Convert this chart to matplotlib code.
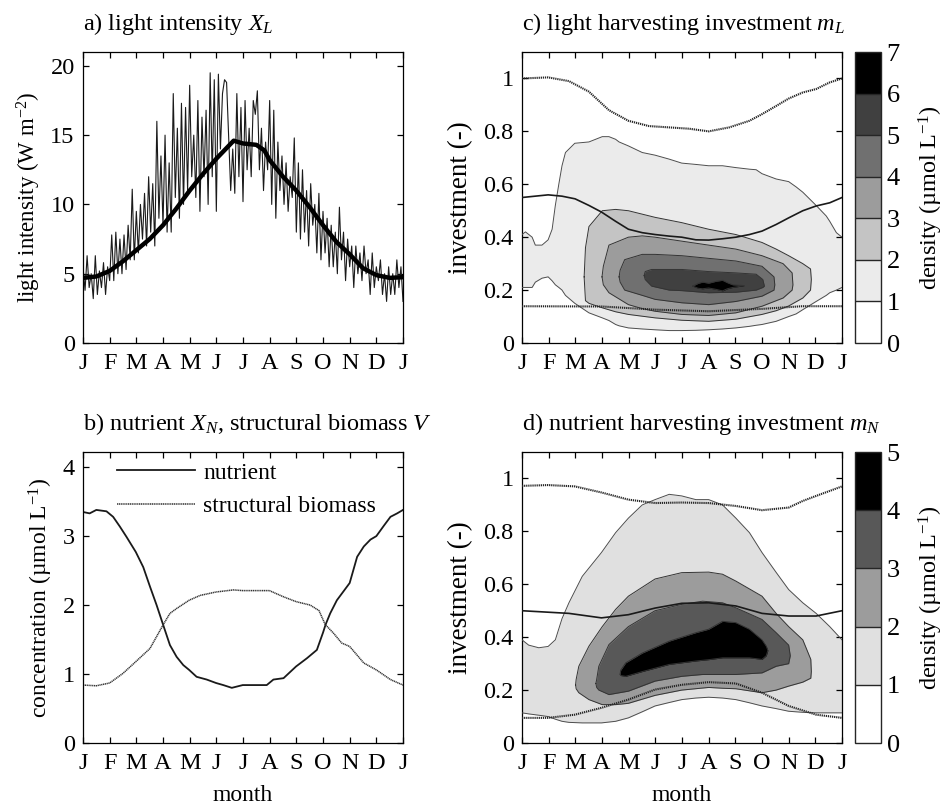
import numpy as np
import matplotlib
matplotlib.use("Agg")
import matplotlib.pyplot as plt
from matplotlib.colors import ListedColormap, BoundaryNorm
from matplotlib.cm import ScalarMappable

plt.rcParams['font.family'] = ['Liberation Serif', 'DejaVu Serif']
plt.rcParams['mathtext.fontset'] = 'custom'
plt.rcParams['mathtext.rm'] = 'Liberation Serif'
plt.rcParams['mathtext.it'] = 'Liberation Serif:italic'
plt.rcParams['font.size'] = 17

TICK_FS = 17.5
TITLE_FS = 17.5

month_labels = ['J', 'F', 'M', 'A', 'M', 'J', 'J', 'A', 'S', 'O', 'N', 'D', 'J']

# a) light intensity, noisy daily series (equally spaced over the year)
light_daily = [5.5, 3.8, 6.3, 4.0, 5.0, 3.2, 6.3, 3.5, 5.2, 4.0, 5.8, 3.5, 5.5, 4.5,
               7.8, 4.5, 8.0, 5.0, 7.5, 5.0, 7.8, 5.3, 8.5, 6.0, 11.1, 6.0, 9.5, 6.5,
               10.0, 7.5, 10.8, 7.0, 12.0, 8.0, 11.5, 7.0, 16.0, 9.0, 13.5, 8.5, 15.0,
               8.0, 13.0, 8.0, 18.0, 10.5, 15.5, 9.0, 17.3, 10.0, 17.0, 11.0, 18.6,
               12.0, 15.0, 10.5, 17.5, 9.5, 16.3, 12.0, 16.8, 10.0, 19.5, 12.0, 19.0,
               9.5, 19.4, 14.0, 18.0, 19.0, 18.8, 15.0, 11.0, 14.0, 10.8, 18.0, 12.0,
               17.0, 10.2, 17.5, 12.5, 15.5, 12.0, 17.5, 16.5, 18.2, 12.5, 15.5, 11.0,
               14.5, 12.5, 17.5, 10.0, 16.8, 9.0, 14.5, 11.0, 13.5, 10.0, 13.0, 9.5,
               12.0, 10.5, 14.8, 8.0, 13.0, 7.5, 12.5, 8.0, 11.0, 7.0, 11.5, 8.5, 10.0,
               6.5, 10.8, 6.0, 9.5, 6.5, 9.0, 5.5, 8.5, 5.5, 8.0, 5.0, 9.8, 6.0, 8.0,
               4.5, 7.5, 5.5, 7.0, 4.0, 7.0, 5.0, 6.5, 4.5, 7.0, 5.0, 6.0, 3.5, 6.5,
               4.0, 5.5, 4.5, 6.0, 3.5, 5.0, 3.0, 5.5, 3.5, 5.0, 3.5, 6.0, 4.0, 5.5, 3.0]
light_mean_t = [0, 0.5, 1, 1.5, 2, 2.5, 3, 3.5, 4, 4.5, 5, 5.5, 5.65, 6, 6.5, 6.8, 7,
                7.5, 8, 8.5, 9, 9.5, 10, 10.5, 11, 11.5, 12]
light_mean = [4.7, 4.8, 5.2, 5.9, 6.7, 7.5, 8.5, 9.7, 11.0, 12.2, 13.3, 14.3, 14.6, 14.4,
              14.3, 13.9, 13.2, 12.0, 11.0, 9.8, 8.5, 7.3, 6.4, 5.4, 4.9, 4.7, 4.75]

# b) nutrient and structural biomass
nut_t = [0, 0.25, 0.5, 0.88, 1.13, 1.38, 1.63, 1.98, 2.26, 2.51, 2.76, 3.0, 3.26, 3.51,
         3.76, 3.98, 4.26, 4.64, 4.99, 5.26, 5.58, 5.99, 6.39, 6.89, 7.14, 7.52, 7.99,
         8.4, 8.77, 9.0, 9.1, 9.27, 9.52, 9.77, 10.0, 10.28, 10.53, 10.78, 11.0, 11.28,
         11.53, 11.78, 12]
nutrient = [3.35, 3.33, 3.38, 3.36, 3.28, 3.14, 2.99, 2.77, 2.55, 2.27, 2.0, 1.72, 1.42,
            1.25, 1.13, 1.06, 0.96, 0.92, 0.87, 0.84, 0.80, 0.84, 0.84, 0.84, 0.92, 0.94,
            1.11, 1.23, 1.35, 1.6, 1.72, 1.88, 2.07, 2.2, 2.32, 2.7, 2.85, 2.95, 3.0,
            3.15, 3.28, 3.33, 3.38]
bio_t = [0, 0.5, 1.0, 1.5, 1.98, 2.51, 3.0, 3.26, 3.51, 3.98, 4.39, 4.99, 5.64, 5.99,
         6.39, 6.99, 7.52, 7.99, 8.52, 8.85, 9.08, 9.4, 9.7, 10.0, 10.53, 11.0, 11.53, 12]
biomass = [0.84, 0.83, 0.87, 1.01, 1.18, 1.37, 1.71, 1.88, 1.95, 2.07, 2.14, 2.19, 2.22,
           2.21, 2.21, 2.21, 2.12, 2.05, 2.0, 1.92, 1.72, 1.59, 1.45, 1.40, 1.16, 1.06,
           0.92, 0.84]

# c) light harvesting investment: boundary lines
mL_up_t = [0, 0.98, 1.76, 2.51, 3.26, 3.99, 4.76, 5.52, 6.27, 7.0, 7.77, 8.53, 9.0, 9.53,
           10.0, 10.53, 11.03, 11.54, 12]
mL_up = [1.0, 1.004, 0.99, 0.95, 0.88, 0.84, 0.82, 0.815, 0.81, 0.80, 0.815, 0.84, 0.865,
         0.896, 0.924, 0.947, 0.96, 0.985, 1.0]
mL_mid_t = [0, 0.98, 1.5, 1.99, 2.51, 2.98, 3.51, 3.99, 4.51, 4.99, 5.52, 5.99, 6.52, 7.0,
            7.52, 8.02, 8.53, 9.0, 9.53, 10.0, 10.53, 11.03, 11.54, 12]
mL_mid = [0.55, 0.56, 0.555, 0.545, 0.52, 0.495, 0.46, 0.43, 0.417, 0.41, 0.404, 0.40,
          0.39, 0.389, 0.394, 0.40, 0.41, 0.423, 0.448, 0.473, 0.50, 0.518, 0.53, 0.55]
mL_lo_t = [0, 3.0, 5.0, 7.0, 9.0, 10.5, 12]
mL_lo = [0.139, 0.138, 0.126, 0.12, 0.129, 0.139, 0.139]

# c) density contour bands (x, lower edge, upper edge) for levels 1..6
mL_levels = [0, 1, 2, 3, 4, 5, 6, 7]
mL_colors = ['#ffffff', '#ebebeb', '#c4c4c4', '#9c9c9c', '#707070', '#404040', '#000000']
mL_band_t = [
    [0, 0.13, 0.38, 0.5, 0.75, 0.98, 1.13, 1.25, 1.38, 1.5, 1.63, 1.98, 2.51, 3.01, 3.26,
     3.51, 3.64, 3.99, 4.51, 4.99, 5.52, 5.99, 6.52, 7.0, 7.52, 8.02, 8.53, 8.78, 9.0,
     9.53, 10.0, 10.28, 10.53, 11.03, 11.41, 11.54, 11.79, 12],
    [2.33, 2.38, 2.51, 3.01, 3.51, 3.99, 4.99, 5.99, 7.0, 8.02, 9.0, 9.53, 10.0, 10.53,
     10.82, 10.85],
    [3.0, 3.05, 3.26, 3.99, 4.51, 4.99, 5.99, 7.0, 8.02, 9.0, 9.79, 10.13, 10.16],
    [3.64, 3.68, 3.85, 4.51, 4.99, 5.99, 7.0, 8.02, 9.0, 9.45, 9.48],
    [4.58, 4.62, 4.86, 5.52, 5.99, 7.0, 8.02, 8.78, 9.03, 9.09],
    [6.4, 6.6, 6.77, 7.0, 7.27, 7.52, 7.7, 7.9, 8.34],
]
mL_band_lo = [
    [0.21, 0.21, 0.21, 0.23, 0.245, 0.25, 0.235, 0.22, 0.21, 0.2, 0.18, 0.15, 0.114, 0.095,
     0.085, 0.07, 0.065, 0.057, 0.053, 0.05, 0.047, 0.047, 0.048, 0.05, 0.053, 0.057,
     0.063, 0.067, 0.07, 0.082, 0.1, 0.11, 0.126, 0.157, 0.18, 0.19, 0.2, 0.21],
    [0.25, 0.16, 0.15, 0.133, 0.118, 0.108, 0.095, 0.086, 0.082, 0.09, 0.108, 0.122, 0.14,
     0.17, 0.2, 0.24],
    [0.25, 0.22, 0.19, 0.145, 0.13, 0.12, 0.108, 0.104, 0.114, 0.139, 0.17, 0.2, 0.22],
    [0.25, 0.23, 0.2, 0.18, 0.165, 0.152, 0.145, 0.157, 0.177, 0.2, 0.22],
    [0.255, 0.24, 0.215, 0.2, 0.198, 0.19, 0.192, 0.2, 0.21, 0.215],
    [0.215, 0.207, 0.205, 0.208, 0.203, 0.197, 0.205, 0.21, 0.217],
]
mL_band_hi = [
    [0.41, 0.42, 0.40, 0.37, 0.37, 0.39, 0.43, 0.52, 0.6, 0.67, 0.72, 0.755, 0.76, 0.78,
     0.78, 0.77, 0.76, 0.745, 0.72, 0.71, 0.695, 0.68, 0.675, 0.67, 0.67, 0.663, 0.657,
     0.655, 0.64, 0.62, 0.61, 0.59, 0.57, 0.52, 0.48, 0.46, 0.417, 0.40],
    [0.25, 0.36, 0.44, 0.50, 0.505, 0.50, 0.475, 0.455, 0.43, 0.41, 0.38, 0.355, 0.33,
     0.30, 0.28, 0.24],
    [0.25, 0.29, 0.37, 0.40, 0.405, 0.40, 0.385, 0.37, 0.355, 0.33, 0.30, 0.265, 0.22],
    [0.25, 0.275, 0.315, 0.335, 0.335, 0.33, 0.32, 0.31, 0.29, 0.25, 0.22],
    [0.255, 0.27, 0.278, 0.278, 0.278, 0.27, 0.265, 0.26, 0.24, 0.215],
    [0.215, 0.225, 0.23, 0.226, 0.233, 0.237, 0.228, 0.22, 0.217],
]

# d) nutrient harvesting investment: boundary lines
mN_up_t = [0, 0.98, 1.98, 2.98, 3.99, 4.99, 5.99, 7.0, 8.02, 9.0, 10.0, 10.53, 11.03, 12]
mN_up = [0.972, 0.975, 0.97, 0.947, 0.92, 0.907, 0.909, 0.907, 0.896, 0.88, 0.89, 0.915,
         0.934, 0.97]
mN_mid_t = [0, 1.76, 2.98, 3.99, 4.99, 5.99, 7.0, 8.02, 9.0, 10.0, 11.03, 12]
mN_mid = [0.5, 0.49, 0.473, 0.485, 0.51, 0.528, 0.53, 0.518, 0.49, 0.48, 0.48, 0.5]
mN_lo_t = [0, 0.98, 1.98, 2.98, 3.99, 4.99, 5.99, 7.0, 8.02, 9.0, 10.0, 11.03, 12]
mN_lo = [0.095, 0.095, 0.107, 0.133, 0.164, 0.202, 0.22, 0.23, 0.225, 0.19, 0.14, 0.107,
         0.095]

# d) density contour bands for levels 1..4
mN_levels = [0, 1, 2, 3, 4, 5]
mN_colors = ['#ffffff', '#e0e0e0', '#9c9c9c', '#585858', '#000000']
mN_band_t = [
    [0, 0.25, 0.63, 0.98, 1.25, 1.5, 1.76, 2.26, 2.98, 3.51, 3.99, 4.51, 4.99, 5.52, 5.99,
     6.52, 7.0, 7.52, 8.02, 8.53, 9.0, 9.53, 10.0, 10.53, 11.03, 11.54, 12],
    [2.01, 2.03, 2.13, 2.51, 3.01, 3.51, 3.99, 4.99, 5.99, 7.0, 7.52, 8.02, 9.0, 9.53,
     10.0, 10.53, 10.83, 10.85],
    [2.77, 2.8, 2.88, 3.26, 3.99, 4.99, 5.99, 6.77, 7.52, 8.02, 9.0, 9.53, 10.0, 10.06],
    [3.68, 3.7, 3.89, 4.51, 5.52, 6.52, 7.0, 7.52, 8.02, 8.53, 9.0, 9.16, 9.22],
]
mN_band_lo = [
    [0.114, 0.11, 0.105, 0.1, 0.09, 0.082, 0.078, 0.076, 0.076, 0.082, 0.095, 0.118, 0.14,
     0.153, 0.164, 0.17, 0.173, 0.17, 0.164, 0.152, 0.14, 0.13, 0.12, 0.116, 0.114, 0.114,
     0.114],
    [0.22, 0.205, 0.19, 0.164, 0.145, 0.145, 0.15, 0.18, 0.2, 0.21, 0.207, 0.205, 0.19,
     0.2, 0.215, 0.23, 0.245, 0.27],
    [0.225, 0.21, 0.2, 0.183, 0.196, 0.234, 0.252, 0.259, 0.259, 0.259, 0.265, 0.29, 0.3,
     0.33],
    [0.26, 0.255, 0.252, 0.27, 0.297, 0.31, 0.315, 0.322, 0.322, 0.322, 0.316, 0.33, 0.35],
]
mN_band_hi = [
    [0.39, 0.37, 0.36, 0.365, 0.39, 0.47, 0.53, 0.63, 0.72, 0.795, 0.85, 0.9, 0.92, 0.94,
     0.934, 0.92, 0.92, 0.9, 0.85, 0.795, 0.72, 0.645, 0.58, 0.53, 0.49, 0.44, 0.39],
    [0.22, 0.24, 0.29, 0.366, 0.44, 0.505, 0.555, 0.62, 0.644, 0.646, 0.638, 0.612, 0.555,
     0.49, 0.44, 0.39, 0.316, 0.27],
    [0.225, 0.24, 0.29, 0.372, 0.44, 0.5, 0.524, 0.536, 0.53, 0.511, 0.467, 0.417, 0.37,
     0.33],
    [0.26, 0.275, 0.303, 0.34, 0.385, 0.417, 0.43, 0.46, 0.455, 0.43, 0.39, 0.366, 0.35],
]


def style_month_axis(ax, xlabel=False):
    ax.set_xlim(0, 12)
    ax.set_xticks(range(13))
    ax.set_xticklabels(month_labels)
    ax.tick_params(direction='in', top=True, right=True, length=4.5, width=0.9,
                   labelsize=TICK_FS)
    ax.tick_params(axis='x', pad=7)
    ax.tick_params(axis='y', pad=6)
    for s in ax.spines.values():
        s.set_linewidth(0.9)
    if xlabel:
        ax.set_xlabel('month', fontsize=17, labelpad=8)


def draw_bands(ax, band_t, band_lo, band_hi, colors):
    for k, (t, lo, hi) in enumerate(zip(band_t, band_lo, band_hi)):
        ax.fill_between(t, lo, hi, color=colors[k + 1], lw=0, zorder=1 + k)
    for k, (t, lo, hi) in enumerate(zip(band_t, band_lo, band_hi)):
        t, lo, hi = np.asarray(t), np.asarray(lo), np.asarray(hi)
        if k == 0:
            ax.plot(t, lo, color='0.3', lw=0.7, zorder=10)
            ax.plot(t, hi, color='0.3', lw=0.7, zorder=10)
        else:
            ax.plot(np.r_[t, t[::-1], t[:1]], np.r_[hi, lo[::-1], hi[:1]],
                    color='0.2', lw=0.7, zorder=10)


def density_panel(ax, cax, band_t, band_lo, band_hi, colors, levels,
                  up_t, up, mid_t, mid, lo_t, lo):
    draw_bands(ax, band_t, band_lo, band_hi, colors)
    ax.plot(up_t, up, color='0.15', lw=1.5, ls=(0, (0.6, 0.4)), zorder=11)
    ax.plot(mid_t, mid, color='0.1', lw=1.2, zorder=11)
    ax.plot(lo_t, lo, color='0.15', lw=1.5, ls=(0, (0.6, 0.4)), zorder=11)
    ax.set_ylim(0, 1.1)
    ax.set_yticks([0, 0.2, 0.4, 0.6, 0.8, 1.0])
    ax.set_yticklabels(['0', '0.2', '0.4', '0.6', '0.8', '1'])
    ax.set_ylabel('investment (-)', fontsize=19.5, labelpad=7)

    cmap = ListedColormap(colors)
    norm = BoundaryNorm(levels, cmap.N)
    cb = plt.colorbar(ScalarMappable(norm=norm, cmap=cmap), cax=cax, ticks=levels,
                      drawedges=True)
    cb.dividers.set_color('0.15')
    cb.dividers.set_linewidth(1.0)
    cb.outline.set_linewidth(1.0)
    cb.outline.set_edgecolor('0.15')
    cax.tick_params(length=0, labelsize=19, pad=4)
    cb.set_label('density (µmol L$^{-1}$)', fontsize=17.5, labelpad=12)


fig = plt.figure(figsize=(9.46, 8.07), dpi=100)
W, H = 946.0, 807.0


def axes_px(left, top, right, bottom):
    return fig.add_axes([left / W, 1 - bottom / H, (right - left) / W, (bottom - top) / H])


ax_a = axes_px(83, 52, 403, 343)
ax_b = axes_px(83, 452, 403, 743)
ax_c = axes_px(522, 52, 842, 343)
ax_d = axes_px(522, 452, 842, 743)
cax_c = axes_px(855, 52, 881, 343)
cax_d = axes_px(855, 452, 881, 743)

# a) light intensity
ax_a.plot(np.linspace(0, 12, len(light_daily)), light_daily, color='0.1', lw=0.8)
ax_a.plot(light_mean_t, light_mean, color='black', lw=3.2)
ax_a.set_ylim(0, 21)
ax_a.set_yticks([0, 5, 10, 15, 20])
ax_a.set_ylabel('light intensity (W m$^{-2}$)', fontsize=16.5, labelpad=5)
style_month_axis(ax_a)
ax_a.set_title('a) light intensity $X_L$', loc='left', fontsize=TITLE_FS, pad=16)

# b) nutrient & structural biomass
ax_b.plot(nut_t, nutrient, color='0.1', lw=1.3, label='nutrient')
ax_b.plot(bio_t, biomass, color='0.2', lw=1.1, ls=(0, (0.8, 0.4)),
          label='structural biomass')
ax_b.set_ylim(0, 4.22)
ax_b.set_yticks([0, 1, 2, 3, 4])
ax_b.set_ylabel('concentration (µmol L$^{-1}$)', fontsize=17, labelpad=5)
style_month_axis(ax_b, xlabel=True)
ax_b.legend(loc='upper left', bbox_to_anchor=(0.106, 0.965), frameon=False,
            fontsize=17, handlelength=3.3, handletextpad=0.35, labelspacing=0.5,
            borderaxespad=0, borderpad=0)
ax_b.set_title('b) nutrient $X_N$, structural biomass $V$', loc='left',
               fontsize=TITLE_FS, pad=16)

# c) light harvesting investment
density_panel(ax_c, cax_c, mL_band_t, mL_band_lo, mL_band_hi, mL_colors, mL_levels,
              mL_up_t, mL_up, mL_mid_t, mL_mid, mL_lo_t, mL_lo)
style_month_axis(ax_c)
ax_c.set_title('c) light harvesting investment $m_L$', loc='left', fontsize=TITLE_FS,
               pad=16)

# d) nutrient harvesting investment
density_panel(ax_d, cax_d, mN_band_t, mN_band_lo, mN_band_hi, mN_colors, mN_levels,
              mN_up_t, mN_up, mN_mid_t, mN_mid, mN_lo_t, mN_lo)
style_month_axis(ax_d, xlabel=True)
ax_d.set_title('d) nutrient harvesting investment $m_N$', loc='left',
               fontsize=TITLE_FS, pad=16)

fig.savefig('out.png', dpi=100)
